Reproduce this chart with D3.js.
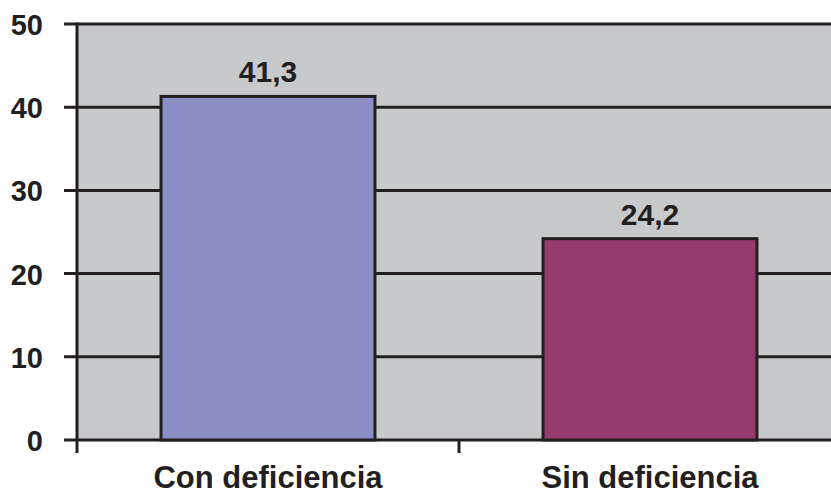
<!DOCTYPE html>
<html><head><meta charset="utf-8">
<script src="https://cdn.jsdelivr.net/npm/d3@7"></script>
<style>body{margin:0;background:#fff}svg{display:block}</style>
</head><body>
<script>
const categories = ["Con deficiencia", "Sin deficiencia"];
const values = [41.3, 24.2];
const valueLabels = ["41,3", "24,2"];
const yTicks = [0, 10, 20, 30, 40, 50];
const colors = ["#8b8fc6", "#963b6e"];

const W = 831, H = 495;
const ink = "#231f20";
const font = "Liberation Sans, Arial, sans-serif";
const svg = d3.select("body").append("svg").attr("width", W).attr("height", H);

const x = d3.scaleBand().domain(categories).range([77, 841]).paddingInner(0.44).paddingOuter(0.22);
const y = d3.scaleLinear().domain([0, 50]).range([440, 24]);

// plot background
svg.append("rect").attr("x", 77).attr("y", y(50)).attr("width", W - 77).attr("height", y(0) - y(50)).attr("fill", "#c8c9cb");

// gridlines
svg.append("g").selectAll("line").data(yTicks).join("line")
  .attr("x1", 64).attr("x2", W).attr("y1", d => y(d)).attr("y2", d => y(d))
  .attr("stroke", ink).attr("stroke-width", 3);

// bars
svg.append("g").selectAll("rect").data(values).join("rect")
  .attr("x", (d, i) => x(categories[i])).attr("width", x.bandwidth())
  .attr("y", d => y(d)).attr("height", d => y(0) - y(d))
  .attr("fill", (d, i) => colors[i]).attr("stroke", ink).attr("stroke-width", 3);

// y axis line
svg.append("line").attr("x1", 77).attr("x2", 77).attr("y1", y(50) - 1.5).attr("y2", 453).attr("stroke", ink).attr("stroke-width", 3);
// category separator tick
const step = x.step();
svg.append("g").selectAll("line").data([1]).join("line")
  .attr("x1", d => 77 + step * d).attr("x2", d => 77 + step * d)
  .attr("y1", 440).attr("y2", 453).attr("stroke", ink).attr("stroke-width", 3);

// y tick labels
svg.append("g").selectAll("text").data(yTicks).join("text")
  .attr("x", 43).attr("y", d => y(d) + 11).attr("text-anchor", "end")
  .attr("font-family", font).attr("font-weight", "bold")
  .attr("font-size", 29).attr("fill", ink).text(d => d);

// value labels
svg.append("g").selectAll("text").data(values).join("text")
  .attr("x", (d, i) => x(categories[i]) + x.bandwidth() / 2).attr("y", d => y(d) - 14)
  .attr("text-anchor", "middle")
  .attr("font-family", font).attr("font-weight", "bold")
  .attr("font-size", 30).attr("fill", ink).text((d, i) => valueLabels[i]);

// category labels
svg.append("g").selectAll("text").data(categories).join("text")
  .attr("x", d => x(d) + x.bandwidth() / 2).attr("y", 488)
  .attr("text-anchor", "middle")
  .attr("font-family", font).attr("font-weight", "bold")
  .attr("font-size", 31).attr("fill", ink).text(d => d);
</script>
</body></html>
